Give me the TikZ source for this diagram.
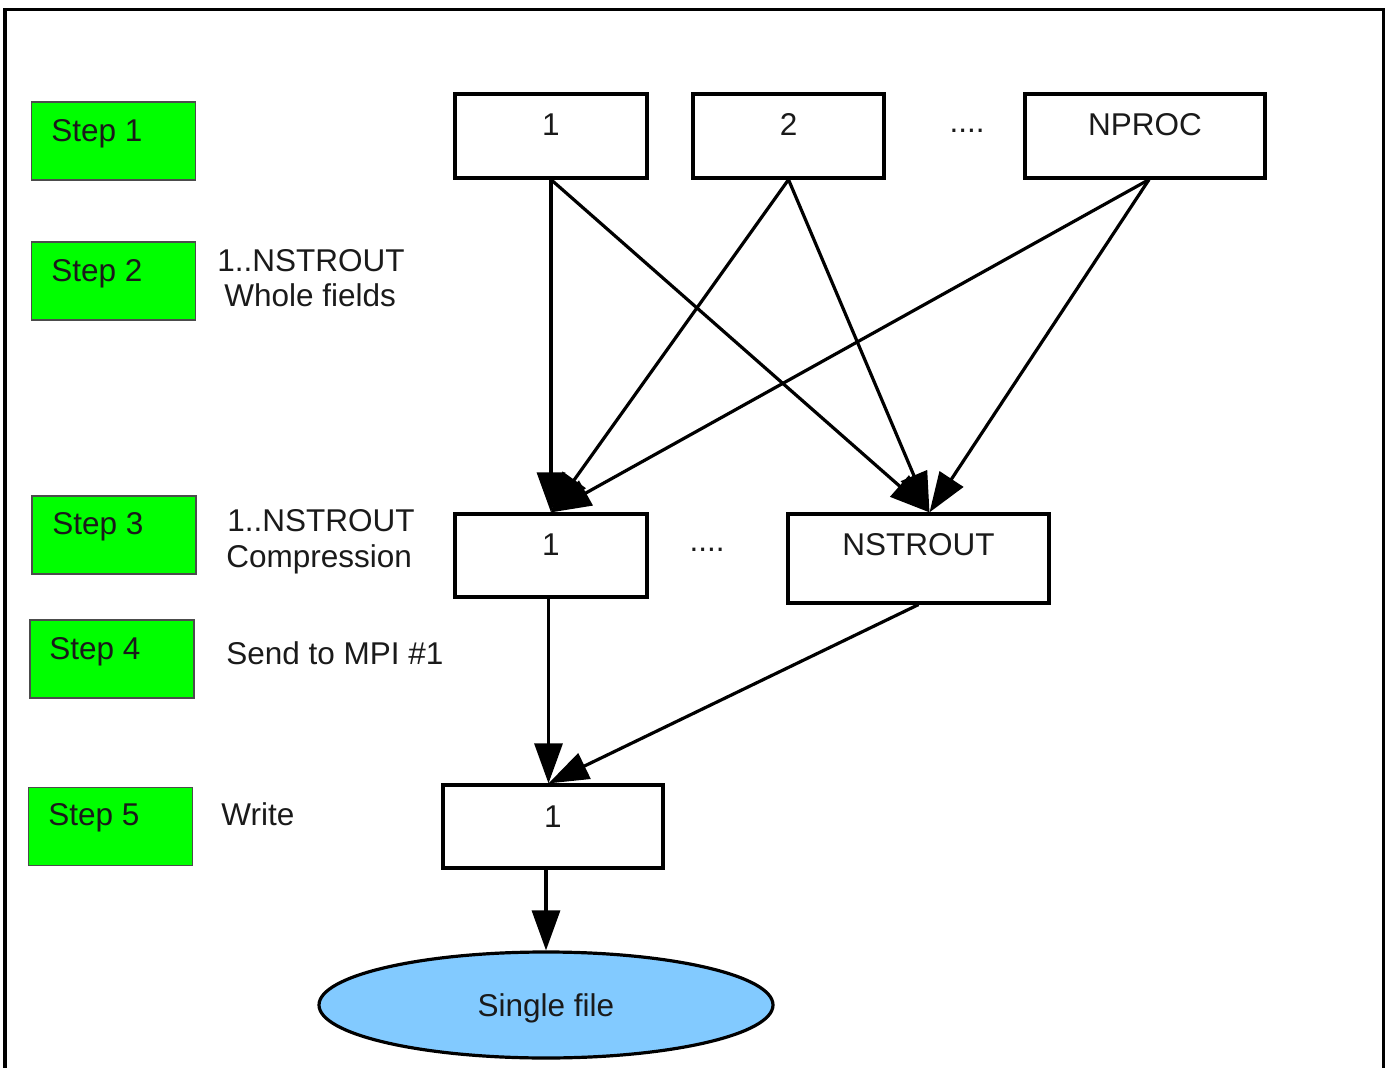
\documentclass[tikz,border=0pt]{standalone}
\usepackage{fontspec}
\setmainfont{Liberation Sans}
\usetikzlibrary{arrows.meta,shapes.geometric,calc}
\definecolor{stepgreen}{RGB}{0,255,0}
\definecolor{fileblue}{RGB}{130,202,255}
\definecolor{inkgray}{RGB}{26,26,26}
\begin{document}
\begin{tikzpicture}[x=0.5pt,y=-0.5pt,
  every node/.style={font=\fontsize{15.75}{19}\selectfont, text=inkgray},
  stepbox/.style={draw=black!70, line width=0.6pt, fill=stepgreen, inner sep=0pt, minimum width=82pt, minimum height=39pt},
  procbox/.style={draw=black, line width=1.6pt, inner sep=0pt, minimum height=42pt},
  txt/.style={inner sep=0pt, anchor=base},
  lbl/.style={inner sep=0pt, anchor=base west},
  flow/.style={line width=1.6pt, -{Triangle[length=20pt,width=14pt]}}
]
\useasboundingbox (0,0) rectangle (1391,1068);

% outer frame, open at the bottom
\draw[line width=1.6pt] (5,1072) -- (5,9.5) -- (1383.5,9.5) -- (1383.5,1072);

% step markers
\node[stepbox] (s1) at (113.5,141) {};
\node[stepbox] (s2) at (113.5,281) {};
\node[stepbox] (s3) at (114,535) {};
\node[stepbox] (s4) at (112,659) {};
\node[stepbox] (s5) at (110.5,826.5) {};
\node[lbl] (s1t) at (51,142) {Step 1};
\node[lbl] (s2t) at (51,282) {Step 2};
\node[lbl] (s3t) at (52,535) {Step 3};
\node[lbl] (s4t) at (49,660) {Step 4};
\node[lbl] (s5t) at (48,825) {Step 5};

% step descriptions
\node[lbl] (d2a) at (217,272) {1..NSTROUT};
\node[lbl] (d2b) at (224,307) {Whole fields};
\node[lbl] (d3a) at (227,532) {1..NSTROUT};
\node[lbl] (d3b) at (226,568) {Compression};
\node[lbl] (d4)  at (226,665) {Send to MPI \#1};
\node[lbl] (d5)  at (221,825) {Write};

% processes
\node[procbox, minimum width=96pt] (p1) at (551,136) {};
\node[procbox, minimum width=95.5pt] (p2) at (788.5,136) {};
\node[procbox, minimum width=120pt] (pn) at (1145,136) {};
\node[txt] (p1t) at (551,136) {1};
\node[txt] (p2t) at (788.5,136) {2};
\node[txt] (pnt) at (1145,136) {NPROC};
\node[txt] (pdots) at (967,133) {....};

% output streams
\node[procbox, minimum width=96pt, minimum height=41.5pt] (m1) at (551,555.5) {};
\node[procbox, minimum width=130.5pt, minimum height=44.5pt] (mn) at (918.5,558.5) {};
\node[txt] (m1t) at (551,556) {1};
\node[txt] (mnt) at (918.5,556) {NSTROUT};
\node[txt] (mdots) at (707,552) {....};

% writer
\node[procbox, minimum width=110pt, minimum height=41.5pt] (w1) at (553,826.5) {};
\node[txt] (w1t) at (553,827) {1};

% file
\node[ellipse, draw=black, line width=1.6pt, fill=fileblue, inner sep=0pt,
      minimum width=227pt, minimum height=53pt] (f) at (546,1005) {};
\node[txt] (ft) at (546,1016) {Single file};

% transfers
\draw[flow] (p1.south) -- (m1.north);
\draw[flow] (p1.south) -- ([xshift=5.5pt]mn.north);
\draw[flow] (p2.south) -- (m1.north);
\draw[flow] (p2.south) -- ([xshift=5.5pt]mn.north);
\draw[flow] ([xshift=2pt]pn.south) -- (m1.north);
\draw[flow] ([xshift=2pt]pn.south) -- ([xshift=5.5pt]mn.north);
\draw[flow] ([xshift=-1.25pt]m1.south) -- ([xshift=-2.25pt]w1.north);
\draw[flow] (mn.south) -- ([xshift=-2.25pt]w1.north);
\draw[flow] (w1.south -| f.north) -- (f.north);
\end{tikzpicture}
\end{document}
